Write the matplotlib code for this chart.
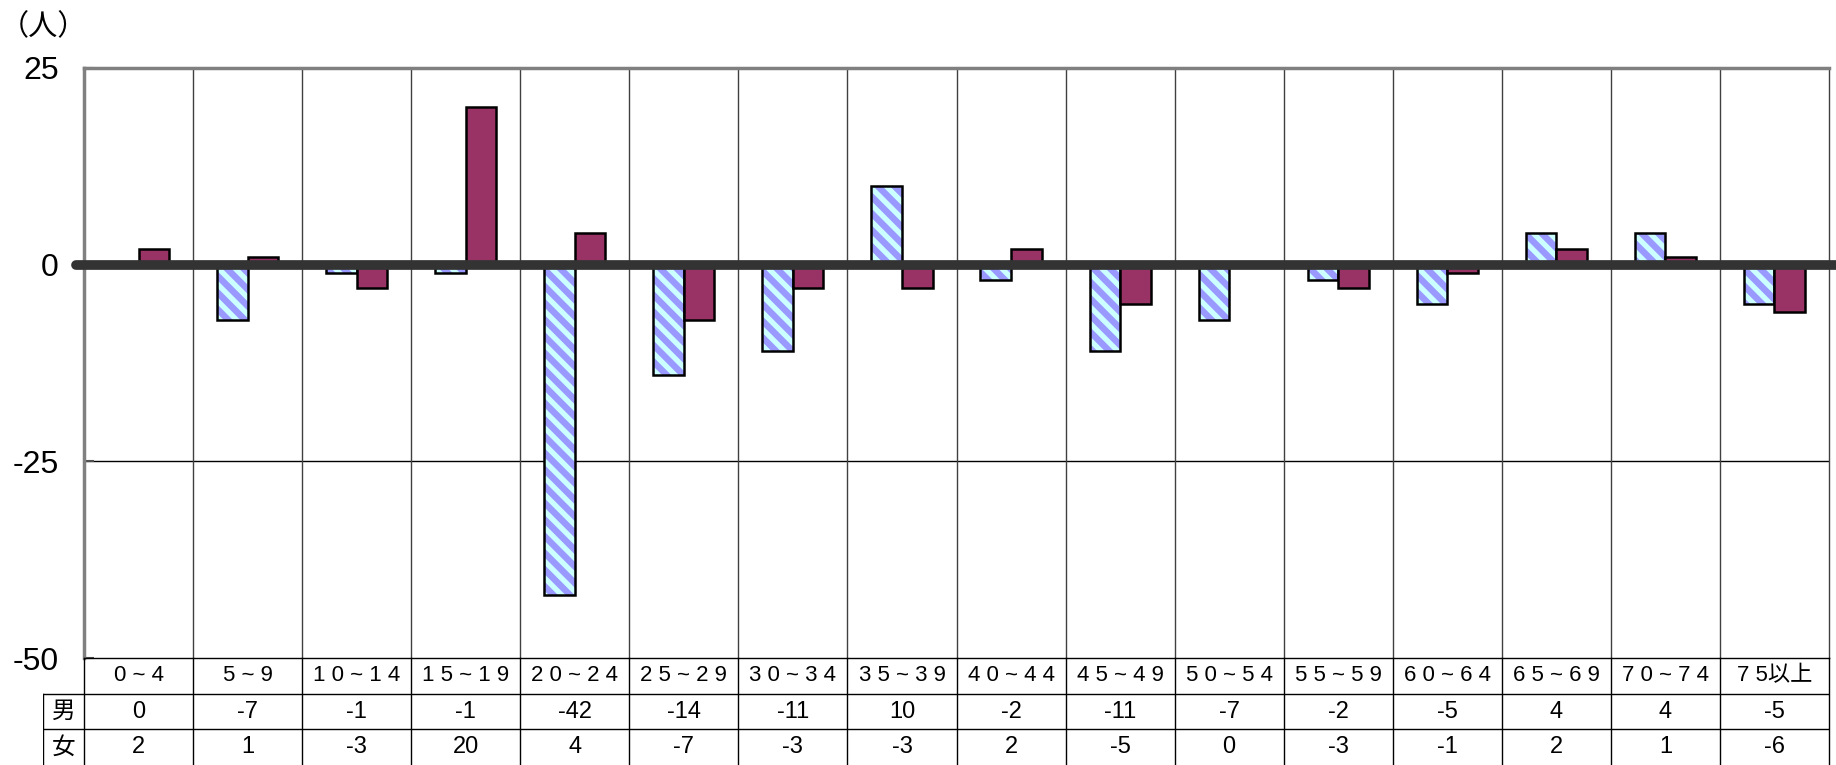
import numpy as np
import matplotlib.pyplot as plt

plt.rcParams['font.family'] = ['Liberation Sans', 'Noto Sans CJK JP']
plt.rcParams['hatch.linewidth'] = 3.8

# 年齢階級別 増減数
ages = ['0 ~ 4', '5 ~ 9', '1 0 ~ 1 4', '1 5 ~ 1 9', '2 0 ~ 2 4', '2 5 ~ 2 9',
        '3 0 ~ 3 4', '3 5 ~ 3 9', '4 0 ~ 4 4', '4 5 ~ 4 9', '5 0 ~ 5 4',
        '5 5 ~ 5 9', '6 0 ~ 6 4', '6 5 ~ 6 9', '7 0 ~ 7 4', '7 5以上']
male = [0, -7, -1, -1, -42, -14, -11, 10, -2, -11, -7, -2, -5, 4, 4, -5]
female = [2, 1, -3, 20, 4, -7, -3, -3, 2, -5, 0, -3, -1, 2, 1, -6]
yticks = [25, 0, -25, -50]

W, H = 1836, 765
fig = plt.figure(figsize=(W / 100, H / 100), dpi=100)

L, R, T, B = 84, 1829, 68, 658
ax = fig.add_axes([L / W, (H - B) / H, (R - L) / W, (B - T) / H])
x = np.arange(len(ages))
bw = 0.28
off = 0.14

# male bars: lavender with cyan stripes, black outline on top
ax.bar(x - off, male, bw, facecolor='#9999FF', edgecolor='#CCFFFF',
       hatch='\\\\', linewidth=0, zorder=3)
ax.bar(x - off, male, bw, facecolor='none', edgecolor='black',
       linewidth=1.8, zorder=4)
ax.bar(x + off, female, bw, color='#993366', edgecolor='black',
       linewidth=1.8, zorder=4)

ax.set_xlim(-0.5, len(ages) - 0.5)
ax.set_ylim(-50, 25)
ax.set_xticks([])
ax.set_yticks(yticks)
ax.set_yticklabels([str(v) for v in yticks], fontsize=23)
ax.tick_params(axis='y', direction='in', length=7, width=1.5,
               color='#505050', pad=18)

for y in [25, -25]:
    ax.axhline(y, color='black', lw=1, zorder=1)
ax.vlines(np.arange(1, len(ages)) - 0.5, -50, 25, color='#404040', lw=1, zorder=1)

# thick category axis line at zero
ax.plot([-0.57, len(ages) - 0.5 + 0.06], [0, 0], color='#333333', lw=7,
        solid_capstyle='round', clip_on=False, zorder=5)

for s in ['left', 'top']:
    ax.spines[s].set_color('#808080')
    ax.spines[s].set_linewidth(2.5)
ax.spines['right'].set_color('#404040')
ax.spines['right'].set_linewidth(1)
ax.spines['bottom'].set_color('black')
ax.spines['bottom'].set_linewidth(1)

fig.text(0 / W, 1 - 27 / H, '（人）', fontsize=21, va='center', ha='left',
         family=['Noto Sans CJK JP'])

# data table under the chart
TL = 43
tx = fig.add_axes([TL / W, 0, (R - TL) / W, (H - B) / H])
tx.set_xlim(-0.5 - (L - TL) / ((R - L) / len(ages)), len(ages) - 0.5)
tx.set_ylim(0, 3)
tx.axis('off')
x0 = tx.get_xlim()[0]
for k in range(len(ages) + 1):
    tx.plot([k - 0.5, k - 0.5], [0, 3], color='black', lw=1, clip_on=False)
tx.plot([x0, x0], [0, 2], color='black', lw=1)
for yy in [2, 1]:
    tx.plot([x0, len(ages) - 0.5], [yy, yy], color='black', lw=1)

for i, lab in enumerate(ages):
    tx.text(i, 2.5, lab, ha='center', va='center', fontsize=16)
    tx.text(i, 1.5, str(male[i]), ha='center', va='center', fontsize=17)
    tx.text(i, 0.5, str(female[i]), ha='center', va='center', fontsize=17)
xm = (x0 - 0.5) / 2
tx.text(xm, 1.5, '男', ha='center', va='center', fontsize=17,
        family=['Noto Sans CJK JP'])
tx.text(xm, 0.5, '女', ha='center', va='center', fontsize=17,
        family=['Noto Sans CJK JP'])

fig.savefig('out.png', dpi=100)
